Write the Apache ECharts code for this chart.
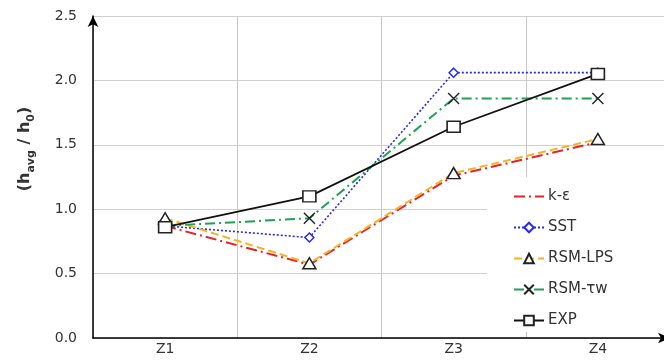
<!DOCTYPE html>
<html>
<head>
<meta charset="utf-8">
<script src="https://cdn.jsdelivr.net/npm/echarts@6/dist/echarts.min.js"></script>
<style>
  html, body { margin: 0; padding: 0; background: #fff; overflow: hidden; }
  #chart { width: 670px; height: 361px; }
</style>
</head>
<body>
<div id="chart"></div>
<script>
// Zones along the channel
const zones = ['Z1', 'Z2', 'Z3', 'Z4'];

// Averaged heat transfer ratio h_avg / h_0 per model
const kEps   = [0.87, 0.57, 1.26, 1.52];
const sst    = [0.87, 0.78, 2.06, 2.06];
const rsmLps = [0.93, 0.58, 1.28, 1.545];
const rsmTw  = [0.87, 0.93, 1.86, 1.86];
const exp    = [0.86, 1.10, 1.64, 2.05];

const yTicks = [0, 0.5, 1.0, 1.5, 2.0, 2.5];
const seriesNames = ['k-ε', 'SST', 'RSM-LPS', 'RSM-τw', 'EXP'];

const tickFont = 'DejaVu Sans, Verdana, sans-serif';
const titleFont = 'DejaVu Sans, Arial, sans-serif';
const crossPath = 'path://M0,0 L10,10 M10,0 L0,10';

const chart = echarts.init(document.getElementById('chart'), null, { renderer: 'canvas' });

chart.setOption({
  backgroundColor: '#fff',
  animation: false,
  grid: { left: 93, right: 0, top: 16, bottom: 23, containLabel: false },
  xAxis: {
    type: 'category',
    data: zones,
    boundaryGap: true,
    axisLine: { lineStyle: { color: '#000', width: 1.5 }, symbol: ['none', 'arrow'], symbolSize: [8, 12] },
    axisTick: { show: false },
    axisLabel: { color: '#333', fontSize: 14, margin: 4, fontFamily: tickFont },
    splitLine: { show: true, interval: 0, lineStyle: { color: '#c8c8c8', width: 1 } }
  },
  yAxis: {
    type: 'value',
    min: yTicks[0],
    max: yTicks[yTicks.length - 1],
    interval: 0.5,
    axisLine: { show: true, lineStyle: { color: '#000', width: 1.5 }, symbol: ['none', 'arrow'], symbolSize: [8, 11] },
    axisTick: { show: false },
    axisLabel: {
      color: '#333', fontSize: 14, margin: 16, fontFamily: tickFont,
      formatter: v => v.toFixed(1)
    },
    splitLine: { show: true, lineStyle: { color: '#d0d0d0', width: 1 } }
  },
  legend: {
    orient: 'vertical',
    left: 487,
    top: 177,
    backgroundColor: '#fff',
    padding: [12, 80, 4, 26],
    itemWidth: 30,
    itemHeight: 12,
    itemGap: 16,
    textStyle: { color: '#333', fontSize: 15, fontFamily: tickFont, padding: [0, 0, 0, -1] },
    data: [
      { name: seriesNames[0], itemStyle: { opacity: 0 } },
      seriesNames[1], seriesNames[2], seriesNames[3], seriesNames[4]
    ]
  },
  graphic: [{
    type: 'text',
    x: 25,
    y: 149,
    rotation: Math.PI / 2,
    style: {
      text: '{m|(h}{s|avg}{m| / h}{s|0}{m|)}',
      align: 'center',
      verticalAlign: 'middle',
      fill: '#333',
      rich: {
        m: { fontSize: 16, fontWeight: 'bold', fontFamily: titleFont, lineHeight: 24, verticalAlign: 'middle', fill: '#333' },
        s: { fontSize: 11, fontWeight: 'bold', fontFamily: titleFont, lineHeight: 11, verticalAlign: 'bottom', fill: '#333' }
      }
    }
  }],
  series: [
    {
      name: seriesNames[0], type: 'line', data: kEps,
      symbol: 'none',
      lineStyle: { color: '#e52328', width: 2, type: [11, 4, 2, 4] },
      itemStyle: { color: '#e52328' }
    },
    {
      name: seriesNames[1], type: 'line', data: sst,
      symbol: 'diamond', symbolSize: 9,
      lineStyle: { color: '#2a2ae8', width: 1.6, type: [2, 2] },
      itemStyle: { color: '#fff', borderColor: '#2a2ae8', borderWidth: 1.5 }
    },
    {
      name: seriesNames[2], type: 'line', data: rsmLps,
      symbol: 'triangle', symbolSize: [13, 11],
      lineStyle: { color: '#f5b323', width: 2, type: [8, 4] },
      itemStyle: { color: '#fff', borderColor: '#222', borderWidth: 1.5 }
    },
    {
      name: seriesNames[3], type: 'line', data: rsmTw,
      symbol: crossPath, symbolSize: 11,
      lineStyle: { color: '#1fa052', width: 2, type: [10, 4, 2, 4] },
      itemStyle: { color: 'none', borderColor: '#222', borderWidth: 1.4 }
    },
    {
      name: seriesNames[4], type: 'line', data: exp,
      symbol: 'rect', symbolSize: [13, 11],
      lineStyle: { color: '#111', width: 1.8, type: 'solid' },
      itemStyle: { color: '#fff', borderColor: '#222', borderWidth: 1.5 }
    }
  ]
});
</script>
</body>
</html>
